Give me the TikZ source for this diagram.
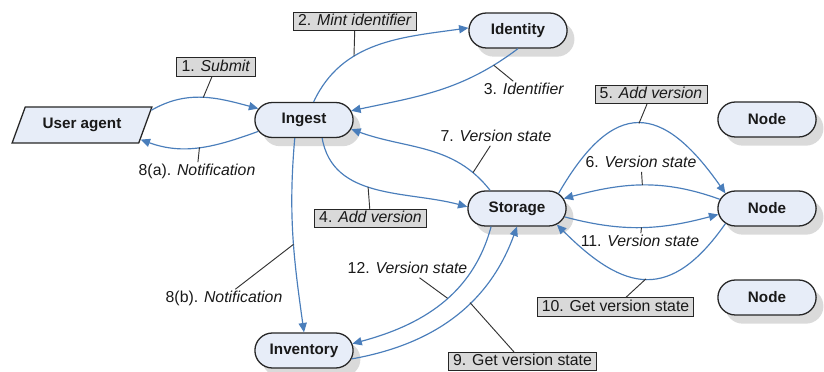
\documentclass[tikz,border=0pt]{standalone}
\usepackage{fontspec}
\setmainfont{Liberation Sans}
\usetikzlibrary{arrows.meta,positioning,shapes.geometric,shapes.misc,shadows}
\definecolor{boxfill}{RGB}{231,237,248}
\definecolor{flowblue}{RGB}{74,126,187}
\definecolor{tagfill}{RGB}{217,217,217}
\definecolor{shade}{RGB}{218,218,218}

\begin{document}
\begin{tikzpicture}[x=0.3mm,y=0.3mm,
  font=\fontsize{13.5}{15}\selectfont, text=black!90,
  actor/.style={rounded rectangle, draw=black!85, line width=1.1pt, fill=boxfill,
    minimum width=31.8mm, minimum height=10.5mm, font=\fontsize{13}{15}\selectfont\bfseries,
    drop shadow={shadow xshift=2.2mm, shadow yshift=-2.6mm, fill=shade, opacity=1}},
  agent/.style={trapezium, trapezium left angle=65, trapezium right angle=115,
    trapezium stretches=true, draw=black!85, line width=1.1pt, fill=boxfill,
    minimum width=42.3mm, minimum height=10.8mm, font=\fontsize{13}{15}\selectfont\bfseries},
  flow/.style={draw=flowblue, line width=1pt, -{Triangle[length=8pt,width=7pt]}},
  tag/.style={draw=black!85, fill=tagfill, line width=0.8pt, inner xsep=4pt,
    inner ysep=1.5pt, text height=9.8pt, text depth=2.8pt},
  note/.style={inner sep=1pt, text height=9.8pt, text depth=2.8pt},
  leader/.style={draw=black!80, line width=0.8pt}]
  \useasboundingbox (0,0) rectangle (824,372);

  \node[agent] (ua) at (82,247) {User agent};
  \node[actor] (ingest) at (304,252) {Ingest};
  \node[actor] (identity) at (518,341.5) {Identity};
  \node[actor] (storage) at (517,163.5) {Storage};
  \node[actor] (nodeA) at (767,252.5) {Node};
  \node[actor] (nodeB) at (767,163.5) {Node};
  \node[actor] (nodeC) at (767,74.5) {Node};
  \node[actor] (inventory) at (304,21.5) {Inventory};

  \draw[flow] (ua.12) to[out=30,in=165] coordinate[pos=.5] (c1) (ingest.166);
  \draw[flow] (ingest.194) to[out=200,in=-20] coordinate[pos=.5] (c8a) (ua.-14);
  \draw[flow] (ingest.62) to[out=65,in=188] coordinate[pos=.35] (c2) (identity.177);
  \draw[flow] (identity.south) to[out=217,in=12] coordinate[pos=.15] (c3) (ingest.11);
  \draw[flow] (storage.146) to[out=128,in=-20] coordinate[pos=.15] (c7) (ingest.-11);
  \draw[flow] (ingest.-45) to[out=-80,in=165] coordinate[pos=.45] (c4) (storage.178);
  \draw[flow] (ingest.243) to[out=265,in=98] coordinate[pos=.55] (c8b) (inventory.north);
  \draw[flow] (storage.20) to[out=60,in=125,looseness=1.7] coordinate[pos=.5] (c5) (nodeB.160);
  \draw[flow] (nodeB.169) to[out=160,in=15] coordinate[pos=.5] (c6) (storage.12);
  \draw[flow] (storage.-10) to[out=-15,in=195] coordinate[pos=.5] (c11) (nodeB.187);
  \draw[flow] (nodeB.200) to[out=235,in=-45,looseness=1.45] coordinate[pos=.5] (c10) (storage.-22);
  \draw[flow] (storage.215) to[out=-105,in=15] coordinate[pos=.45] (c12) (inventory.8);
  \draw[flow] (inventory.-10) to[out=10,in=250] coordinate[pos=.6] (c9) (storage.south);

  \node[tag] (l1) at (216,305) {1. \textit{Submit}};
  \node[tag] (l2) at (355,350.5) {2. \textit{Mint identifier}};
  \node[note] (l3) at (524,282) {3. \textit{Identifier}};
  \node[tag] (l4) at (370.5,153.5) {4. \textit{Add version}};
  \node[tag] (l5) at (651,277.5) {5. \textit{Add version}};
  \node[note] (l6) at (641,209) {6. \textit{Version state}};
  \node[note] (l7) at (496,235) {7. \textit{Version state}};
  \node[note] (l8a) at (197,201) {8(a). \textit{Notification}};
  \node[note] (l8b) at (224,74) {8(b). \textit{Notification}};
  \node[tag] (l9) at (522.5,10.5) {9. Get version state};
  \node[tag] (l10) at (615.5,65) {10. Get version state};
  \node[note] (l11) at (640,130) {11. \textit{Version state}};
  \node[note] (l12) at (407.5,103) {12. \textit{Version state}};

  \foreach \lab/\pt in {l1/c1,l2/c2,l3/c3,l4/c4,l5/c5,l6/c6,l7/c7,l8a/c8a,l8b/c8b,l9/c9,l10/c10,l11/c11,l12/c12}
    \draw[leader] (\lab) -- (\pt);
\end{tikzpicture}
\end{document}
